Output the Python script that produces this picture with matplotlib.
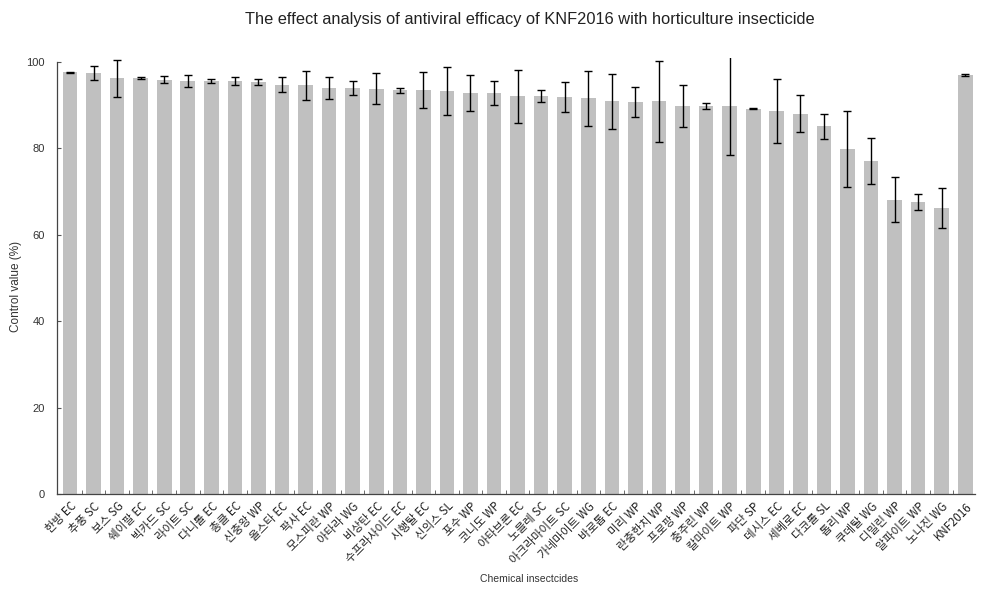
import matplotlib
matplotlib.use("Agg")
import matplotlib.pyplot as plt
import matplotlib.transforms as mtransforms
import numpy as np

plt.rcParams['font.family'] = ['Noto Sans CJK KR', 'DejaVu Sans']

# Insecticide products tested and their control values (%) with standard deviation
products = [
    "한방 EC", "추풍 SC", "보스 SG", "쉐이팔 EC", "빅카드 SC", "라이트 SC",
    "다니톨 EC", "총클 EC", "신충왕 WP", "올스타 EC", "팍사 EC", "모스피란 WP",
    "아타라 WG", "비상탄 EC", "수프라사이드 EC", "시행탈 EC", "신의스 SL",
    "포수 WP", "코니도 WP", "아타브론 EC", "노블레 SC", "아크라마이트 SC",
    "가네마이트 WG", "바로톱 EC", "미리 WP", "란충한치 WP", "프로팡 WP",
    "충주린 WP", "칼마이트 WP", "파단 SP", "데시스 EC", "세베로 EC",
    "다코롤 SL", "톱리 WP", "쿠데탈 WG", "디밀린 WP", "알파이트 WP",
    "노나진 WG", "KNF2016",
]
control_value = [
    97.5, 97.3, 96.2, 96.2, 95.8, 95.5, 95.5, 95.5, 95.3, 94.7, 94.5, 93.9,
    93.9, 93.7, 93.4, 93.5, 93.2, 92.8, 92.8, 92.0, 92.0, 91.8, 91.5, 90.8,
    90.6, 90.8, 89.8, 89.8, 89.8, 89.1, 88.5, 88.0, 85.1, 79.8, 77.0, 68.1,
    67.6, 66.2, 96.9,
]
std_dev = [
    0.2, 1.6, 4.3, 0.2, 0.8, 1.4, 0.5, 0.9, 0.6, 1.8, 3.4, 2.6,
    1.7, 3.6, 0.6, 4.1, 5.5, 4.2, 2.8, 6.1, 1.4, 3.5, 6.3, 6.4,
    3.5, 9.4, 4.9, 0.7, 11.4, 0.1, 7.4, 4.3, 2.9, 8.8, 5.3, 5.2,
    1.9, 4.7, 0.3,
]
y_ticks = [0, 20, 40, 60, 80, 100]

latin = ['Liberation Sans', 'DejaVu Sans']

fig = plt.figure(figsize=(9.83, 5.94), dpi=100)
ax = fig.add_axes([0.058, 0.168, 0.934, 0.734])

x = np.arange(len(products))
ax.bar(x, control_value, width=0.62, color="#c0c0c0", edgecolor="none", zorder=2)
ax.errorbar(x, control_value, yerr=std_dev, fmt="none", ecolor="black",
            elinewidth=1.0, capsize=3, capthick=1.0, zorder=3)

ax.set_xlim(-0.55, 38.42)
ax.set_ylim(0, 100.8)
ax.set_yticks(y_ticks)
ax.set_yticklabels([str(v) for v in y_ticks], fontsize=8, color="#333333",
                   family=latin)
ax.set_xticks(x)
ax.set_xticklabels(products, rotation=45, ha="right", rotation_mode="anchor",
                   fontsize=8.3, color="#222222")
# shift the slanted category labels a little to the right of each bar
shift = mtransforms.ScaledTranslation(0.08, 0, fig.dpi_scale_trans)
for lbl in ax.get_xticklabels():
    lbl.set_transform(lbl.get_transform() + shift)
ax.tick_params(axis="x", which="major", length=0, pad=4)
ax.set_xticks(x[:-1] + 0.5, minor=True)
ax.tick_params(axis="x", which="minor", length=3, direction="in", color="#555555")
ax.tick_params(axis="y", length=3, direction="in", color="#555555", pad=9)

for side in ("top", "right"):
    ax.spines[side].set_visible(False)
ax.spines["left"].set_bounds(0, 100)
for side in ("left", "bottom"):
    ax.spines[side].set_color("#444444")
    ax.spines[side].set_linewidth(0.9)

fig.text(0.016, 0.518, "Control value (%)", rotation=90, ha="center", va="center",
         fontsize=8.5, color="#333333", family=latin)
fig.text(0.538, 0.026, "Chemical insectcides", ha="center", va="center",
         fontsize=7.5, color="#333333", family=latin)
fig.text(0.539, 0.968, "The effect analysis of antiviral efficacy of KNF2016 with horticulture insecticide",
         ha="center", va="center", fontsize=11.8, color="#222222", family=latin)

fig.savefig("out.png", dpi=100)
